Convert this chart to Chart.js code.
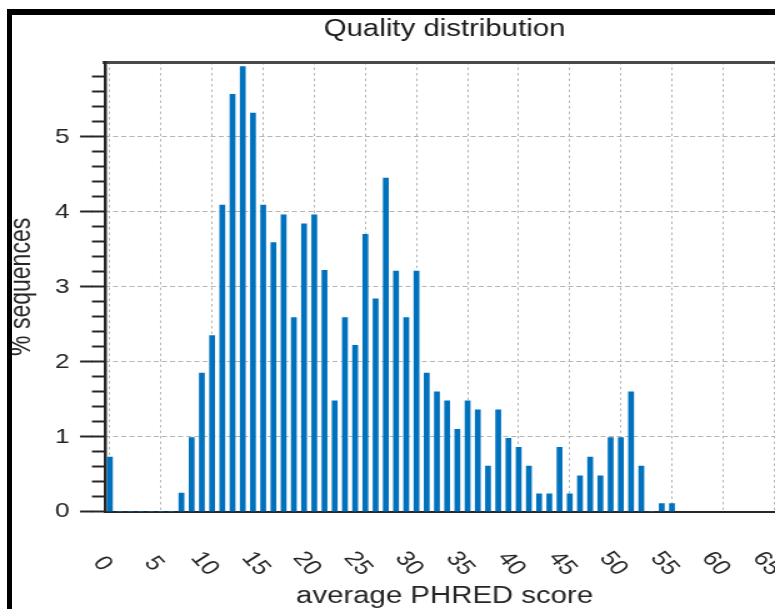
<!DOCTYPE html>
<html>
<head>
<meta charset="utf-8">
<script src="https://cdn.jsdelivr.net/npm/chart.js@4/dist/chart.umd.min.js"></script>
<style>
html,body{margin:0;padding:0;background:#fff;overflow:hidden;width:775px;height:609px;}
#wrap{position:absolute;left:0;top:0;width:640px;height:609px;transform:scaleX(1.25);transform-origin:0 0;}
#frame{position:absolute;left:7px;top:9px;width:900px;height:700px;border-left:5px solid #000;border-top:6px solid #000;pointer-events:none;}
</style>
</head>
<body>
<div id="wrap"><canvas id="c"></canvas></div>
<div id="frame"></div>
<script>
// ---- data ----
const scores = [0,1,2,3,4,5,6,7,8,9,10,11,12,13,14,15,16,17,18,19,20,21,22,23,24,25,26,27,28,29,30,31,32,33,34,35,36,37,38,39,40,41,42,43,44,45,46,47,48,49,50,51,52,53,54,55];
const percents = [0.73,0,0,0,0,0,0,0.25,0.99,1.85,2.35,4.09,5.57,5.94,5.32,4.09,3.59,3.96,2.59,3.84,3.96,3.22,1.48,2.59,2.22,3.70,2.84,4.45,3.21,2.59,3.21,1.85,1.60,1.48,1.10,1.48,1.36,0.61,1.36,0.98,0.86,0.61,0.24,0.24,0.86,0.24,0.48,0.73,0.48,0.99,0.99,1.60,0.61,0,0.11,0.11];
const xTickValues = [0,5,10,15,20,25,30,35,40,45,50,55,60,65];
const yTickValues = [0,1,2,3,4,5];
const chartTitle = 'Quality distribution';
const xTitle = 'average PHRED score';
const yTitle = '% sequences';

// ---- styles ----
const AX = '#262626';
const GRID = '#b4b4b4';
const FONT = "'Liberation Sans', Arial, Helvetica, sans-serif";

const xLabelPlugin = {
  id: 'xRotatedLabels',
  afterDraw(chart) {
    const sc = chart.scales.x;
    const ctx = chart.ctx;
    ctx.save();
    ctx.font = '21px ' + FONT;
    ctx.fillStyle = AX;
    ctx.textAlign = 'center';
    ctx.textBaseline = 'middle';
    xTickValues.forEach(v => {
      const px = sc.getPixelForValue(v);
      ctx.save();
      ctx.translate(px - 6, sc.top + 52);
      ctx.rotate(52 * Math.PI / 180);
      ctx.fillText(String(v), 0, 0);
      ctx.restore();
    });
    ctx.restore();
  }
};

new Chart(document.getElementById('c'), {
  type: 'bar',
  data: {
    datasets: [{
      data: scores.map((s, i) => ({x: s, y: percents[i]})),
      backgroundColor: '#0072BD',
      borderWidth: 0,
      barThickness: 4,
      xAxisID: 'x',
      yAxisID: 'y'
    }]
  },
  options: {
    responsive: true,
    maintainAspectRatio: false,
    animation: false,
    events: [],
    layout: {padding: {left: 0, top: 0, right: 12.5, bottom: 0}},
    plugins: {
      legend: {display: false},
      tooltip: {enabled: false},
      title: {
        display: true, text: chartTitle, fullSize: false, color: '#1a1a1a',
        font: {family: FONT, size: 23.5, weight: 'normal'},
        padding: {top: 15.5, bottom: 18.3}
      }
    },
    scales: {
      x: {
        type: 'linear', position: 'bottom', min: -0.5, max: 66, offset: false,
        afterBuildTicks: s => { s.ticks = xTickValues.map(v => ({value: v})); },
        afterFit: s => { s.height = 97.3; },
        ticks: {display: false},
        grid: {display: true, drawOnChartArea: true, drawTicks: false, color: GRID, lineWidth: 1, offset: false},
        border: {display: true, color: AX, width: 2, dash: [2.5, 3]},
        title: {display: true, text: xTitle, color: AX, font: {family: FONT, size: 23.5}, padding: {top: 0, bottom: -1.8}}
      },
      xTop: {
        type: 'linear', position: 'top', min: -0.5, max: 66, offset: false,
        afterFit: s => { s.height = 0; },
        ticks: {display: false},
        grid: {display: true, drawOnChartArea: false, drawTicks: false},
        border: {display: true, color: '#4a4a4a', width: 3}
      },
      y: {
        type: 'linear', position: 'left', weight: 1, min: 0, max: 6,
        afterBuildTicks: s => { s.ticks = yTickValues.map(v => ({value: v})); },
        afterFit: s => { s.width = 73.6; },
        ticks: {color: AX, font: {family: FONT, size: 21}, padding: 8.4},
        grid: {
          display: true, drawOnChartArea: true, drawTicks: true,
          color: c => (c.tick && c.tick.value === 0) ? 'rgba(0,0,0,0)' : GRID,
          lineWidth: 1, tickLength: 9.6, tickColor: AX, tickWidth: 2
        },
        border: {display: false, dash: [4, 2.5]},
        title: {display: true, text: yTitle, color: AX, font: {family: FONT, size: 23}, padding: {top: 3.5, bottom: 0}}
      },
      yMinor: {
        type: 'linear', position: 'left', weight: 0, min: 0, max: 6,
        afterBuildTicks: s => { s.ticks = s.ticks.filter(t => t.value < 5.9); },
        afterFit: s => { s.width = 10.23; },
        ticks: {display: false, stepSize: 0.2},
        grid: {display: true, drawOnChartArea: false, drawTicks: true, tickLength: 10.23, tickColor: AX, tickWidth: 2},
        border: {display: true, color: AX, width: 2.5}
      }
    }
  },
  plugins: [xLabelPlugin]
});
</script>
</body>
</html>
